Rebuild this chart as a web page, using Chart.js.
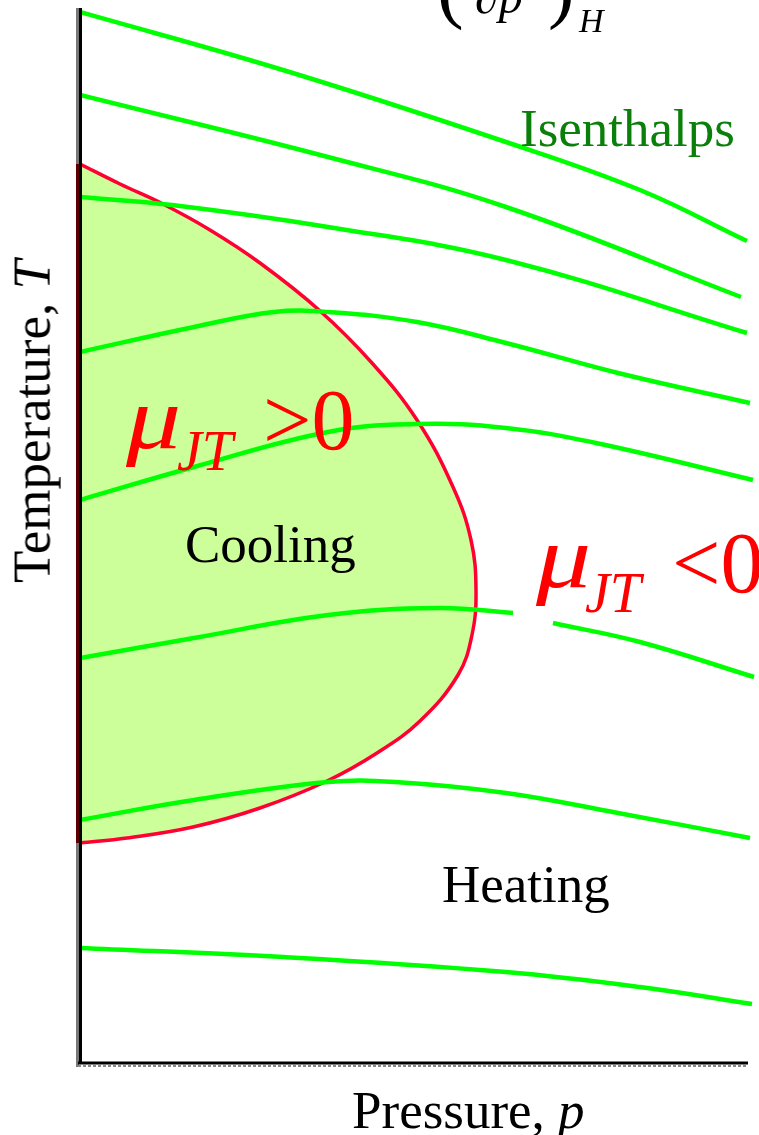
<!DOCTYPE html>
<html lang="en">
<head>
<meta charset="UTF-8">
<title>Joule-Thomson inversion curve</title>
<script src="https://cdn.jsdelivr.net/npm/chart.js"></script>
<style>
    body {
        margin: 0;
        background: #fff;
    }
    #wrap {
        position: relative;
        width: 759px;
        height: 1135px;
        overflow: hidden;
        font-family: "Liberation Serif", "Times New Roman", serif;
        color: #000;
    }
    #wrap canvas {
        position: absolute;
        left: 0;
        top: 0;
    }
    .lbl {
        position: absolute;
        line-height: 1;
        white-space: nowrap;
    }
    .it { font-style: italic; }
    .red { color: #ff0000; }
    .mu {
        transform: scaleX(1.25);
        transform-origin: 0 0;
    }
</style>
</head>
<body>
<div id="wrap">
    <canvas id="jtChart" width="759" height="1135"></canvas>

    <!-- cut-off formula at the top -->
    <span class="lbl" style="left:437px;top:-54px;font-size:80px">(</span>
    <span class="lbl it" style="left:475px;top:-27px;font-size:48px">&part;p</span>
    <span class="lbl" style="left:548px;top:-54px;font-size:80px">)</span>
    <span class="lbl it" style="left:579px;top:4px;font-size:34px">H</span>

    <span class="lbl" style="left:520px;top:102px;font-size:53px;color:#0a7f0a">Isenthalps</span>

    <!-- mu > 0 -->
    <span class="lbl it red mu" style="left:126px;top:375px;font-size:88px">&mu;</span>
    <span class="lbl it red" style="left:177px;top:423px;font-size:56px">JT</span>
    <span class="lbl red" style="left:263px;top:377px;font-size:86px">&gt;0</span>

    <!-- mu < 0 -->
    <span class="lbl it red mu" style="left:536px;top:514px;font-size:88px">&mu;</span>
    <span class="lbl it red" style="left:585px;top:565px;font-size:56px">JT</span>
    <span class="lbl red" style="left:672px;top:520px;font-size:86px">&lt;0</span>

    <span class="lbl" style="left:185px;top:518px;font-size:53px">Cooling</span>
    <span class="lbl" style="left:442px;top:858px;font-size:53px">Heating</span>

    <span class="lbl" style="left:352px;top:1084px;font-size:53px">Pressure, <i>p</i></span>
    <div class="lbl" style="left:0;top:0;font-size:53px;transform-origin:0 0;transform:translate(5.6px,583px) rotate(-90deg)">Temperature, <i>T</i></div>
</div>

<script>
    // pressure p (arbitrary units) vs temperature T (arbitrary units)
    const pMax = 67.6;
    const tMax = 105.2;

    // inversion curve, boundary of the cooling region
    const inversionCurve = [[0, 89.8], [4.0, 87.8], [8.3, 85.8], [13.0, 83.2], [18.0, 79.9], [23.9, 75.2],
        [29.2, 69.9], [33.7, 64.2], [37.3, 57.5], [39.1, 52.2], [39.6, 47.2], [39.2, 42.7], [37.8, 38.7],
        [34.0, 34.1], [29.7, 30.9], [24.7, 28.1], [18.0, 25.4], [11.3, 23.5], [4.7, 22.4], [0, 21.9]];

    // isenthalps, top to bottom
    const h1 = [[0, 105.0], [20.3, 99.2], [42.6, 92.0], [56.0, 87.2], [66.7, 82.1]];
    const h2 = [[0, 96.7], [24.8, 90.5], [42.6, 85.5], [66.1, 76.5]];
    const h3 = [[0, 86.5], [9.2, 85.7], [24.8, 83.5], [42.6, 80.2], [66.7, 72.9]];
    const h4 = [[0, 71.0], [11.4, 73.5], [19.4, 75.0], [24.8, 75.0], [33.7, 74.0], [42.6, 71.9], [53.8, 68.9], [67.0, 65.9]];
    const h5 = [[0, 56.2], [11.4, 59.5], [24.8, 63.0], [33.7, 63.8], [42.6, 63.4], [51.6, 61.9], [67.3, 58.2]];
    const h6 = [[0, 40.4], [11.4, 42.4], [24.8, 44.7], [35.9, 45.4], [43.3, 44.9], [45.3, null], [47.3, 43.9], [56.0, 42.0], [67.4, 38.5]];
    const h7 = [[0, 24.2], [11.4, 26.2], [24.8, 28.0], [31.5, 28.0], [42.6, 26.9], [53.8, 24.9], [67.0, 22.4]];
    const h8 = [[0, 11.4], [20.3, 10.5], [42.6, 9.0], [56.0, 7.5], [67.2, 5.8]];

    const isenthalps = [h1, h2, h3, h4, h5, h6, h7, h8];

    function toPoints(arr) {
        return arr.map(function (d) { return { x: d[0], y: d[1] }; });
    }

    // axes: gray shadow + black line, dark red where the cooling region touches
    const axesPlugin = {
        id: 'axes',
        afterDatasetsDraw(chart) {
            const ctx = chart.ctx;
            const xs = chart.scales.x, ys = chart.scales.y;
            const x0 = xs.getPixelForValue(0);
            const y0 = ys.getPixelForValue(0);
            const top = chart.chartArea.top - 2;
            const xEnd = xs.getPixelForValue(66.8);
            ctx.save();
            ctx.lineCap = 'butt';

            ctx.strokeStyle = '#777';
            ctx.lineWidth = 3;
            ctx.beginPath();
            ctx.moveTo(x0 - 2.5, top);
            ctx.lineTo(x0 - 2.5, y0 + 5);
            ctx.stroke();

            ctx.strokeStyle = '#5c0000';
            ctx.beginPath();
            ctx.moveTo(x0 - 2.5, ys.getPixelForValue(inversionCurve[0][1]));
            ctx.lineTo(x0 - 2.5, ys.getPixelForValue(inversionCurve[inversionCurve.length - 1][1]));
            ctx.stroke();

            ctx.strokeStyle = '#000';
            ctx.beginPath();
            ctx.moveTo(x0 + 0.5, top);
            ctx.lineTo(x0 + 0.5, y0 + 2);
            ctx.stroke();

            ctx.beginPath();
            ctx.moveTo(x0 - 2, y0 + 1);
            ctx.lineTo(xEnd, y0 + 1);
            ctx.stroke();

            ctx.strokeStyle = '#888';
            ctx.lineWidth = 2;
            ctx.setLineDash([3, 2]);
            ctx.beginPath();
            ctx.moveTo(x0 - 2, y0 + 4);
            ctx.lineTo(xEnd, y0 + 4);
            ctx.stroke();
            ctx.restore();
        }
    };

    const datasets = [{
        label: 'Inversion curve',
        data: toPoints(inversionCurve),
        borderColor: '#ff0033',
        backgroundColor: '#ccff99',
        borderWidth: 3.5,
        fill: 'shape',
        tension: 0.4,
        order: 1
    }];
    isenthalps.forEach(function (h, i) {
        datasets.push({
            label: 'Isenthalp ' + (i + 1),
            data: toPoints(h),
            borderColor: '#00ff00',
            borderWidth: 4.5,
            fill: false,
            tension: 0.4,
            spanGaps: false,
            order: 0
        });
    });

    new Chart(document.getElementById('jtChart'), {
        type: 'line',
        data: { datasets: datasets },
        options: {
            responsive: false,
            animation: false,
            layout: { padding: { left: 80, right: 3, top: 10, bottom: 73 } },
            elements: { point: { radius: 0, hoverRadius: 0 } },
            scales: {
                x: { type: 'linear', min: 0, max: pMax, display: false },
                y: { type: 'linear', min: 0, max: tMax, display: false }
            },
            plugins: {
                legend: { display: false },
                tooltip: { enabled: false }
            }
        },
        plugins: [axesPlugin]
    });
</script>
</body>
</html>
